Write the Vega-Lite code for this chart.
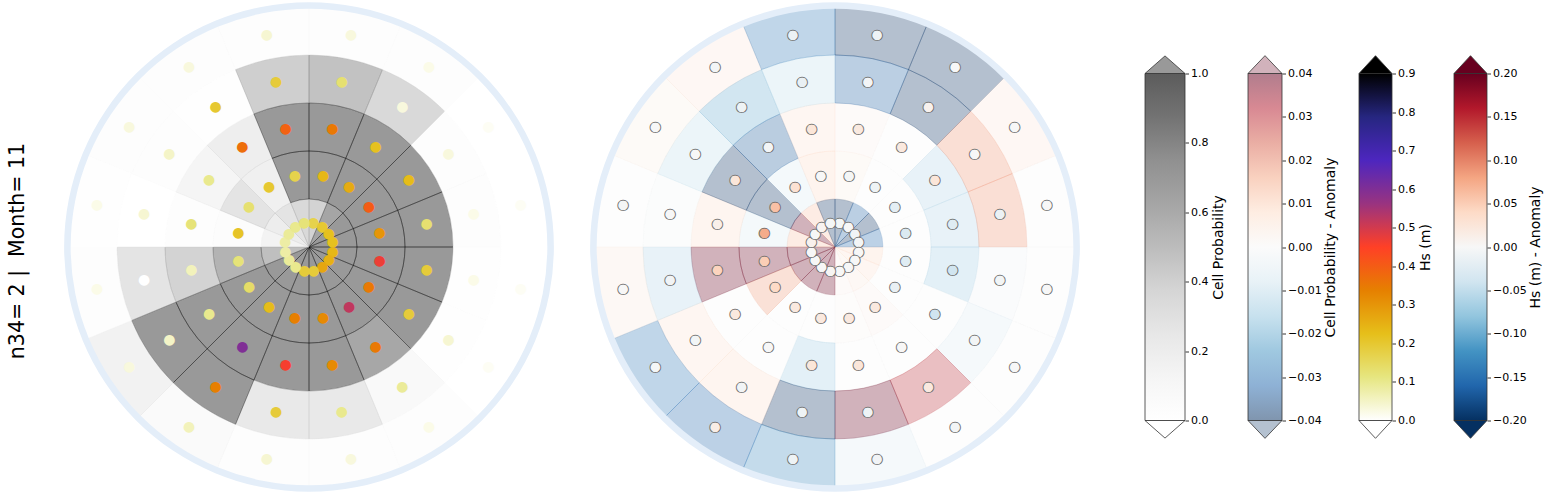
{
  "$schema": "https://vega.github.io/schema/vega-lite/v6.json",
  "background": "white",
  "padding": {"left": 7, "top": 2, "right": 5, "bottom": 2},
  "bounds": "flush",
  "center": true,
  "spacing": 46,
  "title": {"text": "n34= 2 | \u00a0Month= 11", "orient": "left", "anchor": "middle", "fontSize": 20.5, "font": "DejaVu Sans", "fontWeight": "normal", "color": "#000000", "offset": 36, "dx": -4},
  "config": {
    "view": {"stroke": null},
    "axis": {"domain": false, "grid": false, "tickSize": 3.5, "tickColor": "#000000", "tickWidth": 0.8, "labelFontSize": 11, "labelFont": "DejaVu Sans", "labelColor": "#000000", "labelPadding": 2, "labelOverlap": false, "titleFont": "DejaVu Sans", "titleFontSize": 14, "titleFontWeight": "normal", "titleColor": "#000000"}
  },
  "datasets": {
    "cells": [
      {"p":"L","a":0,"b":22.5,"c":11.25,"r0":0,"r1":1,"m":0.5,"v":0.52,"h":0.17},
      {"p":"L","a":0,"b":22.5,"c":11.25,"r0":1,"r1":2,"m":1.5,"v":1,"h":0.24},
      {"p":"L","a":0,"b":22.5,"c":11.25,"r0":2,"r1":3,"m":2.5,"v":1,"h":0.35},
      {"p":"L","a":0,"b":22.5,"c":11.25,"r0":3,"r1":4,"m":3.5,"v":0.67,"h":0.13},
      {"p":"L","a":0,"b":22.5,"c":11.25,"r0":4,"r1":5,"m":4.5,"v":0.05,"h":0.03},
      {"p":"L","a":22.5,"b":45,"c":33.75,"r0":0,"r1":1,"m":0.5,"v":0.9,"h":0.2},
      {"p":"L","a":22.5,"b":45,"c":33.75,"r0":1,"r1":2,"m":1.5,"v":1,"h":0.26},
      {"p":"L","a":22.5,"b":45,"c":33.75,"r0":2,"r1":3,"m":2.5,"v":1,"h":0.22},
      {"p":"L","a":22.5,"b":45,"c":33.75,"r0":3,"r1":4,"m":3.5,"v":0.47,"h":0.03},
      {"p":"L","a":22.5,"b":45,"c":33.75,"r0":4,"r1":5,"m":4.5,"v":0.03,"h":0.02},
      {"p":"L","a":45,"b":67.5,"c":56.25,"r0":0,"r1":1,"m":0.5,"v":1,"h":0.22},
      {"p":"L","a":45,"b":67.5,"c":56.25,"r0":1,"r1":2,"m":1.5,"v":1,"h":0.4},
      {"p":"L","a":45,"b":67.5,"c":56.25,"r0":2,"r1":3,"m":2.5,"v":1,"h":0.23},
      {"p":"L","a":45,"b":67.5,"c":56.25,"r0":3,"r1":4,"m":3.5,"v":0.04,"h":0.03},
      {"p":"L","a":45,"b":67.5,"c":56.25,"r0":4,"r1":5,"m":4.5,"v":0.01,"h":0.01},
      {"p":"L","a":67.5,"b":90,"c":78.75,"r0":0,"r1":1,"m":0.5,"v":1,"h":0.22},
      {"p":"L","a":67.5,"b":90,"c":78.75,"r0":1,"r1":2,"m":1.5,"v":1,"h":0.3},
      {"p":"L","a":67.5,"b":90,"c":78.75,"r0":2,"r1":3,"m":2.5,"v":1,"h":0.13},
      {"p":"L","a":67.5,"b":90,"c":78.75,"r0":3,"r1":4,"m":3.5,"v":0.04,"h":0.02},
      {"p":"L","a":67.5,"b":90,"c":78.75,"r0":4,"r1":5,"m":4.5,"v":0,"h":0.01},
      {"p":"L","a":90,"b":112.5,"c":101.25,"r0":0,"r1":1,"m":0.5,"v":1,"h":0.24},
      {"p":"L","a":90,"b":112.5,"c":101.25,"r0":1,"r1":2,"m":1.5,"v":1,"h":0.47},
      {"p":"L","a":90,"b":112.5,"c":101.25,"r0":2,"r1":3,"m":2.5,"v":1,"h":0.19},
      {"p":"L","a":90,"b":112.5,"c":101.25,"r0":3,"r1":4,"m":3.5,"v":0.02,"h":0.02},
      {"p":"L","a":90,"b":112.5,"c":101.25,"r0":4,"r1":5,"m":4.5,"v":0,"h":0.01},
      {"p":"L","a":112.5,"b":135,"c":123.75,"r0":0,"r1":1,"m":0.5,"v":1,"h":0.25},
      {"p":"L","a":112.5,"b":135,"c":123.75,"r0":1,"r1":2,"m":1.5,"v":1,"h":0.35},
      {"p":"L","a":112.5,"b":135,"c":123.75,"r0":2,"r1":3,"m":2.5,"v":1,"h":0.19},
      {"p":"L","a":112.5,"b":135,"c":123.75,"r0":3,"r1":4,"m":3.5,"v":0.02,"h":0.04},
      {"p":"L","a":112.5,"b":135,"c":123.75,"r0":4,"r1":5,"m":4.5,"v":0,"h":0.01},
      {"p":"L","a":135,"b":157.5,"c":146.25,"r0":0,"r1":1,"m":0.5,"v":1,"h":0.27},
      {"p":"L","a":135,"b":157.5,"c":146.25,"r0":1,"r1":2,"m":1.5,"v":1,"h":0.52},
      {"p":"L","a":135,"b":157.5,"c":146.25,"r0":2,"r1":3,"m":2.5,"v":0.88,"h":0.35},
      {"p":"L","a":135,"b":157.5,"c":146.25,"r0":3,"r1":4,"m":3.5,"v":0.12,"h":0.09},
      {"p":"L","a":135,"b":157.5,"c":146.25,"r0":4,"r1":5,"m":4.5,"v":0.03,"h":0.02},
      {"p":"L","a":157.5,"b":180,"c":168.75,"r0":0,"r1":1,"m":0.5,"v":1,"h":0.19},
      {"p":"L","a":157.5,"b":180,"c":168.75,"r0":1,"r1":2,"m":1.5,"v":1,"h":0.32},
      {"p":"L","a":157.5,"b":180,"c":168.75,"r0":2,"r1":3,"m":2.5,"v":1,"h":0.32},
      {"p":"L","a":157.5,"b":180,"c":168.75,"r0":3,"r1":4,"m":3.5,"v":0.33,"h":0.1},
      {"p":"L","a":157.5,"b":180,"c":168.75,"r0":4,"r1":5,"m":4.5,"v":0.04,"h":0.03},
      {"p":"L","a":180,"b":202.5,"c":191.25,"r0":0,"r1":1,"m":0.5,"v":1,"h":0.19},
      {"p":"L","a":180,"b":202.5,"c":191.25,"r0":1,"r1":2,"m":1.5,"v":1,"h":0.34},
      {"p":"L","a":180,"b":202.5,"c":191.25,"r0":2,"r1":3,"m":2.5,"v":1,"h":0.46},
      {"p":"L","a":180,"b":202.5,"c":191.25,"r0":3,"r1":4,"m":3.5,"v":0.33,"h":0.19},
      {"p":"L","a":180,"b":202.5,"c":191.25,"r0":4,"r1":5,"m":4.5,"v":0.05,"h":0.04},
      {"p":"L","a":202.5,"b":225,"c":213.75,"r0":0,"r1":1,"m":0.5,"v":1,"h":0.1},
      {"p":"L","a":202.5,"b":225,"c":213.75,"r0":1,"r1":2,"m":1.5,"v":1,"h":0.23},
      {"p":"L","a":202.5,"b":225,"c":213.75,"r0":2,"r1":3,"m":2.5,"v":1,"h":0.6},
      {"p":"L","a":202.5,"b":225,"c":213.75,"r0":3,"r1":4,"m":3.5,"v":1,"h":0.34},
      {"p":"L","a":202.5,"b":225,"c":213.75,"r0":4,"r1":5,"m":4.5,"v":0.1,"h":0.06},
      {"p":"L","a":225,"b":247.5,"c":236.25,"r0":0,"r1":1,"m":0.5,"v":1,"h":0.09},
      {"p":"L","a":225,"b":247.5,"c":236.25,"r0":1,"r1":2,"m":1.5,"v":1,"h":0.14},
      {"p":"L","a":225,"b":247.5,"c":236.25,"r0":2,"r1":3,"m":2.5,"v":1,"h":0.1},
      {"p":"L","a":225,"b":247.5,"c":236.25,"r0":3,"r1":4,"m":3.5,"v":1,"h":0.05},
      {"p":"L","a":225,"b":247.5,"c":236.25,"r0":4,"r1":5,"m":4.5,"v":0.22,"h":0.03},
      {"p":"L","a":247.5,"b":270,"c":258.75,"r0":0,"r1":1,"m":0.5,"v":0.7,"h":0.08},
      {"p":"L","a":247.5,"b":270,"c":258.75,"r0":1,"r1":2,"m":1.5,"v":0.8,"h":0.12},
      {"p":"L","a":247.5,"b":270,"c":258.75,"r0":2,"r1":3,"m":2.5,"v":0.52,"h":0.06},
      {"p":"L","a":247.5,"b":270,"c":258.75,"r0":3,"r1":4,"m":3.5,"v":0.38,"h":0},
      {"p":"L","a":247.5,"b":270,"c":258.75,"r0":4,"r1":5,"m":4.5,"v":0.03,"h":0.02},
      {"p":"L","a":270,"b":292.5,"c":281.25,"r0":0,"r1":1,"m":0.5,"v":0.2,"h":0.08},
      {"p":"L","a":270,"b":292.5,"c":281.25,"r0":1,"r1":2,"m":1.5,"v":0.06,"h":0.21},
      {"p":"L","a":270,"b":292.5,"c":281.25,"r0":2,"r1":3,"m":2.5,"v":0.05,"h":0.12},
      {"p":"L","a":270,"b":292.5,"c":281.25,"r0":3,"r1":4,"m":3.5,"v":0.01,"h":0.04},
      {"p":"L","a":270,"b":292.5,"c":281.25,"r0":4,"r1":5,"m":4.5,"v":0.02,"h":0.02},
      {"p":"L","a":292.5,"b":315,"c":303.75,"r0":0,"r1":1,"m":0.5,"v":0.28,"h":0.09},
      {"p":"L","a":292.5,"b":315,"c":303.75,"r0":1,"r1":2,"m":1.5,"v":0.38,"h":0.13},
      {"p":"L","a":292.5,"b":315,"c":303.75,"r0":2,"r1":3,"m":2.5,"v":0.18,"h":0.1},
      {"p":"L","a":292.5,"b":315,"c":303.75,"r0":3,"r1":4,"m":3.5,"v":0.05,"h":0.05},
      {"p":"L","a":292.5,"b":315,"c":303.75,"r0":4,"r1":5,"m":4.5,"v":0.03,"h":0.03},
      {"p":"L","a":315,"b":337.5,"c":326.25,"r0":0,"r1":1,"m":0.5,"v":0.38,"h":0.1},
      {"p":"L","a":315,"b":337.5,"c":326.25,"r0":1,"r1":2,"m":1.5,"v":0.25,"h":0.2},
      {"p":"L","a":315,"b":337.5,"c":326.25,"r0":2,"r1":3,"m":2.5,"v":0.27,"h":0.37},
      {"p":"L","a":315,"b":337.5,"c":326.25,"r0":3,"r1":4,"m":3.5,"v":0.02,"h":0.2},
      {"p":"L","a":315,"b":337.5,"c":326.25,"r0":4,"r1":5,"m":4.5,"v":0.03,"h":0.03},
      {"p":"L","a":337.5,"b":360,"c":348.75,"r0":0,"r1":1,"m":0.5,"v":0.47,"h":0.12},
      {"p":"L","a":337.5,"b":360,"c":348.75,"r0":1,"r1":2,"m":1.5,"v":1,"h":0.17},
      {"p":"L","a":337.5,"b":360,"c":348.75,"r0":2,"r1":3,"m":2.5,"v":1,"h":0.39},
      {"p":"L","a":337.5,"b":360,"c":348.75,"r0":3,"r1":4,"m":3.5,"v":0.55,"h":0.19},
      {"p":"L","a":337.5,"b":360,"c":348.75,"r0":4,"r1":5,"m":4.5,"v":0.05,"h":0.04},
      {"p":"R","a":0,"b":22.5,"c":11.25,"r0":0,"r1":1,"m":0.5,"v":-0.04,"h":-0.005},
      {"p":"R","a":0,"b":22.5,"c":11.25,"r0":1,"r1":2,"m":1.5,"v":0.003,"h":-0.003},
      {"p":"R","a":0,"b":22.5,"c":11.25,"r0":2,"r1":3,"m":2.5,"v":0.002,"h":0.02},
      {"p":"R","a":0,"b":22.5,"c":11.25,"r0":3,"r1":4,"m":3.5,"v":-0.033,"h":-0.004},
      {"p":"R","a":0,"b":22.5,"c":11.25,"r0":4,"r1":5,"m":4.5,"v":-0.04,"h":-0.01},
      {"p":"R","a":22.5,"b":45,"c":33.75,"r0":0,"r1":1,"m":0.5,"v":-0.033,"h":0},
      {"p":"R","a":22.5,"b":45,"c":33.75,"r0":1,"r1":2,"m":1.5,"v":0,"h":-0.01},
      {"p":"R","a":22.5,"b":45,"c":33.75,"r0":2,"r1":3,"m":2.5,"v":0,"h":0.02},
      {"p":"R","a":22.5,"b":45,"c":33.75,"r0":3,"r1":4,"m":3.5,"v":-0.04,"h":0.008},
      {"p":"R","a":22.5,"b":45,"c":33.75,"r0":4,"r1":5,"m":4.5,"v":-0.04,"h":0},
      {"p":"R","a":45,"b":67.5,"c":56.25,"r0":0,"r1":1,"m":0.5,"v":-0.04,"h":-0.005},
      {"p":"R","a":45,"b":67.5,"c":56.25,"r0":1,"r1":2,"m":1.5,"v":0,"h":-0.02},
      {"p":"R","a":45,"b":67.5,"c":56.25,"r0":2,"r1":3,"m":2.5,"v":-0.012,"h":0.025},
      {"p":"R","a":45,"b":67.5,"c":56.25,"r0":3,"r1":4,"m":3.5,"v":0.018,"h":0},
      {"p":"R","a":45,"b":67.5,"c":56.25,"r0":4,"r1":5,"m":4.5,"v":0.005,"h":0},
      {"p":"R","a":67.5,"b":90,"c":78.75,"r0":0,"r1":1,"m":0.5,"v":-0.032,"h":-0.004},
      {"p":"R","a":67.5,"b":90,"c":78.75,"r0":1,"r1":2,"m":1.5,"v":0,"h":-0.03},
      {"p":"R","a":67.5,"b":90,"c":78.75,"r0":2,"r1":3,"m":2.5,"v":-0.012,"h":-0.025},
      {"p":"R","a":67.5,"b":90,"c":78.75,"r0":3,"r1":4,"m":3.5,"v":0.018,"h":-0.012},
      {"p":"R","a":67.5,"b":90,"c":78.75,"r0":4,"r1":5,"m":4.5,"v":0,"h":0},
      {"p":"R","a":90,"b":112.5,"c":101.25,"r0":0,"r1":1,"m":0.5,"v":0.008,"h":0},
      {"p":"R","a":90,"b":112.5,"c":101.25,"r0":1,"r1":2,"m":1.5,"v":0,"h":-0.025},
      {"p":"R","a":90,"b":112.5,"c":101.25,"r0":2,"r1":3,"m":2.5,"v":-0.014,"h":-0.04},
      {"p":"R","a":90,"b":112.5,"c":101.25,"r0":3,"r1":4,"m":3.5,"v":-0.002,"h":-0.005},
      {"p":"R","a":90,"b":112.5,"c":101.25,"r0":4,"r1":5,"m":4.5,"v":0,"h":0},
      {"p":"R","a":112.5,"b":135,"c":123.75,"r0":0,"r1":1,"m":0.5,"v":0.006,"h":0},
      {"p":"R","a":112.5,"b":135,"c":123.75,"r0":1,"r1":2,"m":1.5,"v":0,"h":-0.015},
      {"p":"R","a":112.5,"b":135,"c":123.75,"r0":2,"r1":3,"m":2.5,"v":0,"h":-0.04},
      {"p":"R","a":112.5,"b":135,"c":123.75,"r0":3,"r1":4,"m":3.5,"v":-0.005,"h":-0.005},
      {"p":"R","a":112.5,"b":135,"c":123.75,"r0":4,"r1":5,"m":4.5,"v":0,"h":0},
      {"p":"R","a":135,"b":157.5,"c":146.25,"r0":0,"r1":1,"m":0.5,"v":0.004,"h":0},
      {"p":"R","a":135,"b":157.5,"c":146.25,"r0":1,"r1":2,"m":1.5,"v":0.002,"h":0.02},
      {"p":"R","a":135,"b":157.5,"c":146.25,"r0":2,"r1":3,"m":2.5,"v":0,"h":0},
      {"p":"R","a":135,"b":157.5,"c":146.25,"r0":3,"r1":4,"m":3.5,"v":0.03,"h":0.02},
      {"p":"R","a":135,"b":157.5,"c":146.25,"r0":4,"r1":5,"m":4.5,"v":0,"h":-0.004},
      {"p":"R","a":157.5,"b":180,"c":168.75,"r0":0,"r1":1,"m":0.5,"v":0.002,"h":0},
      {"p":"R","a":157.5,"b":180,"c":168.75,"r0":1,"r1":2,"m":1.5,"v":0.001,"h":0.02},
      {"p":"R","a":157.5,"b":180,"c":168.75,"r0":2,"r1":3,"m":2.5,"v":0,"h":0.025},
      {"p":"R","a":157.5,"b":180,"c":168.75,"r0":3,"r1":4,"m":3.5,"v":0.04,"h":-0.01},
      {"p":"R","a":157.5,"b":180,"c":168.75,"r0":4,"r1":5,"m":4.5,"v":-0.005,"h":-0.006},
      {"p":"R","a":180,"b":202.5,"c":191.25,"r0":0,"r1":1,"m":0.5,"v":0.04,"h":0.003},
      {"p":"R","a":180,"b":202.5,"c":191.25,"r0":1,"r1":2,"m":1.5,"v":0,"h":0.02},
      {"p":"R","a":180,"b":202.5,"c":191.25,"r0":2,"r1":3,"m":2.5,"v":-0.014,"h":0.025},
      {"p":"R","a":180,"b":202.5,"c":191.25,"r0":3,"r1":4,"m":3.5,"v":-0.04,"h":-0.01},
      {"p":"R","a":180,"b":202.5,"c":191.25,"r0":4,"r1":5,"m":4.5,"v":-0.026,"h":-0.01},
      {"p":"R","a":202.5,"b":225,"c":213.75,"r0":0,"r1":1,"m":0.5,"v":0.04,"h":0},
      {"p":"R","a":202.5,"b":225,"c":213.75,"r0":1,"r1":2,"m":1.5,"v":0,"h":0.02},
      {"p":"R","a":202.5,"b":225,"c":213.75,"r0":2,"r1":3,"m":2.5,"v":0,"h":0},
      {"p":"R","a":202.5,"b":225,"c":213.75,"r0":3,"r1":4,"m":3.5,"v":0.007,"h":-0.006},
      {"p":"R","a":202.5,"b":225,"c":213.75,"r0":4,"r1":5,"m":4.5,"v":-0.032,"h":0.015},
      {"p":"R","a":225,"b":247.5,"c":236.25,"r0":0,"r1":1,"m":0.5,"v":0.04,"h":0},
      {"p":"R","a":225,"b":247.5,"c":236.25,"r0":1,"r1":2,"m":1.5,"v":0.017,"h":0.04},
      {"p":"R","a":225,"b":247.5,"c":236.25,"r0":2,"r1":3,"m":2.5,"v":0,"h":0.02},
      {"p":"R","a":225,"b":247.5,"c":236.25,"r0":3,"r1":4,"m":3.5,"v":0.006,"h":-0.005},
      {"p":"R","a":225,"b":247.5,"c":236.25,"r0":4,"r1":5,"m":4.5,"v":-0.029,"h":-0.003},
      {"p":"R","a":247.5,"b":270,"c":258.75,"r0":0,"r1":1,"m":0.5,"v":0.04,"h":0},
      {"p":"R","a":247.5,"b":270,"c":258.75,"r0":1,"r1":2,"m":1.5,"v":0.04,"h":0.05},
      {"p":"R","a":247.5,"b":270,"c":258.75,"r0":2,"r1":3,"m":2.5,"v":0.04,"h":0.045},
      {"p":"R","a":247.5,"b":270,"c":258.75,"r0":3,"r1":4,"m":3.5,"v":-0.012,"h":-0.006},
      {"p":"R","a":247.5,"b":270,"c":258.75,"r0":4,"r1":5,"m":4.5,"v":0.004,"h":0},
      {"p":"R","a":270,"b":292.5,"c":281.25,"r0":0,"r1":1,"m":0.5,"v":0.012,"h":0.008},
      {"p":"R","a":270,"b":292.5,"c":281.25,"r0":1,"r1":2,"m":1.5,"v":-0.006,"h":0.075},
      {"p":"R","a":270,"b":292.5,"c":281.25,"r0":2,"r1":3,"m":2.5,"v":0.007,"h":0.012},
      {"p":"R","a":270,"b":292.5,"c":281.25,"r0":3,"r1":4,"m":3.5,"v":-0.001,"h":0},
      {"p":"R","a":270,"b":292.5,"c":281.25,"r0":4,"r1":5,"m":4.5,"v":0,"h":-0.003},
      {"p":"R","a":292.5,"b":315,"c":303.75,"r0":0,"r1":1,"m":0.5,"v":0.04,"h":0},
      {"p":"R","a":292.5,"b":315,"c":303.75,"r0":1,"r1":2,"m":1.5,"v":-0.04,"h":0.06},
      {"p":"R","a":292.5,"b":315,"c":303.75,"r0":2,"r1":3,"m":2.5,"v":-0.04,"h":0.025},
      {"p":"R","a":292.5,"b":315,"c":303.75,"r0":3,"r1":4,"m":3.5,"v":-0.01,"h":0},
      {"p":"R","a":292.5,"b":315,"c":303.75,"r0":4,"r1":5,"m":4.5,"v":0.003,"h":0},
      {"p":"R","a":315,"b":337.5,"c":326.25,"r0":0,"r1":1,"m":0.5,"v":0.012,"h":0.006},
      {"p":"R","a":315,"b":337.5,"c":326.25,"r0":1,"r1":2,"m":1.5,"v":-0.006,"h":0.03},
      {"p":"R","a":315,"b":337.5,"c":326.25,"r0":2,"r1":3,"m":2.5,"v":-0.034,"h":-0.004},
      {"p":"R","a":315,"b":337.5,"c":326.25,"r0":3,"r1":4,"m":3.5,"v":-0.02,"h":-0.01},
      {"p":"R","a":315,"b":337.5,"c":326.25,"r0":4,"r1":5,"m":4.5,"v":0.005,"h":-0.004},
      {"p":"R","a":337.5,"b":360,"c":348.75,"r0":0,"r1":1,"m":0.5,"v":-0.04,"h":-0.003},
      {"p":"R","a":337.5,"b":360,"c":348.75,"r0":1,"r1":2,"m":1.5,"v":0.008,"h":0},
      {"p":"R","a":337.5,"b":360,"c":348.75,"r0":2,"r1":3,"m":2.5,"v":0.006,"h":0.025},
      {"p":"R","a":337.5,"b":360,"c":348.75,"r0":3,"r1":4,"m":3.5,"v":-0.01,"h":-0.015},
      {"p":"R","a":337.5,"b":360,"c":348.75,"r0":4,"r1":5,"m":4.5,"v":-0.029,"h":-0.012}
    ]
  },
  "hconcat": [
    {
      "width": 480, "height": 480,
      "data": {"name": "cells"},
      "transform": [{"filter": "datum.p === 'L'"}],
      "resolve": {"scale": {"fill": "independent", "stroke": "independent"}},
      "layer": [
        {
          "mark": {"type": "arc", "fillOpacity": 0.4, "strokeOpacity": 0.4, "strokeWidth": 0.8},
          "encoding": {
            "theta": {"field": "a", "type": "quantitative", "stack": null, "scale": {"domain": [0, 360], "range": [0, 6.283185307179586]}},
            "theta2": {"field": "b"},
            "radius": {"field": "r0", "type": "quantitative", "scale": {"type": "linear", "domain": [0, 5], "range": [0, 240], "zero": true}},
            "radius2": {"field": "r1"},
            "fill": {"field": "v", "type": "quantitative", "scale": {"domain": [0, 0.125, 0.25, 0.375, 0.5, 0.625, 0.75, 0.875, 1], "range": ["#ffffff", "#f0f0f0", "#d9d9d9", "#bdbdbd", "#969696", "#737373", "#525252", "#252525", "#000000"], "interpolate": "rgb", "clamp": true}, "legend": null},
            "stroke": {"field": "v", "type": "quantitative", "scale": {"domain": [0, 0.125, 0.25, 0.375, 0.5, 0.625, 0.75, 0.875, 1], "range": ["#ffffff", "#f0f0f0", "#d9d9d9", "#bdbdbd", "#969696", "#737373", "#525252", "#252525", "#000000"], "interpolate": "rgb", "clamp": true}, "legend": null}
          }
        },
        {
          "mark": {"type": "text", "text": "●", "font": "DejaVu Sans", "fontSize": 14, "baseline": "middle", "align": "center"},
          "encoding": {
            "theta": {"field": "c", "type": "quantitative", "stack": null, "scale": {"domain": [0, 360], "range": [0, 6.283185307179586]}},
            "radius": {"field": "m", "type": "quantitative", "scale": {"type": "linear", "domain": [0, 5], "range": [0, 240], "zero": true}},
            "fill": {"field": "h", "type": "quantitative", "scale": {"domain": [0, 0.1125, 0.225, 0.3375, 0.45, 0.5625, 0.675, 0.7875, 0.9], "range": ["#ffffff", "#e6e680", "#e6bf1a", "#e68000", "#ff4026", "#993380", "#4d26bf", "#262680", "#000000"], "interpolate": "rgb", "clamp": true}, "legend": null}
          }
        },
        {
          "data": {"values": [{"ring": "frame"}]},
          "mark": {"type": "arc", "fill": "#e4eef9"},
          "encoding": {
            "theta": {"datum": 0, "type": "quantitative"},
            "theta2": {"datum": 360},
            "radius": {"datum": 4.965, "type": "quantitative"},
            "radius2": {"datum": 5.1}
          }
        }
      ]
    },
    {
      "width": 480, "height": 480,
      "data": {"name": "cells"},
      "transform": [{"filter": "datum.p === 'R'"}],
      "resolve": {"scale": {"fill": "independent", "stroke": "independent"}},
      "layer": [
        {
          "mark": {"type": "arc", "fillOpacity": 0.3, "strokeOpacity": 0.3, "strokeWidth": 0.8},
          "encoding": {
            "theta": {"field": "a", "type": "quantitative", "stack": null, "scale": {"domain": [0, 360], "range": [0, 6.283185307179586]}},
            "theta2": {"field": "b"},
            "radius": {"field": "r0", "type": "quantitative", "scale": {"type": "linear", "domain": [0, 5], "range": [0, 240], "zero": true}},
            "radius2": {"field": "r1"},
            "fill": {"field": "v", "type": "quantitative", "scale": {"domain": [-0.04, -0.032, -0.024, -0.016, -0.008, 0, 0.008, 0.016, 0.024, 0.032, 0.04], "range": ["#053061", "#2166ac", "#4393c3", "#92c5de", "#d1e5f0", "#f7f7f7", "#fddbc7", "#f4a582", "#d6604d", "#b2182b", "#67001f"], "interpolate": "rgb", "clamp": true}, "legend": null},
            "stroke": {"field": "v", "type": "quantitative", "scale": {"domain": [-0.04, -0.032, -0.024, -0.016, -0.008, 0, 0.008, 0.016, 0.024, 0.032, 0.04], "range": ["#053061", "#2166ac", "#4393c3", "#92c5de", "#d1e5f0", "#f7f7f7", "#fddbc7", "#f4a582", "#d6604d", "#b2182b", "#67001f"], "interpolate": "rgb", "clamp": true}, "legend": null}
          }
        },
        {
          "mark": {"type": "text", "text": "●", "font": "DejaVu Sans", "fontSize": 14, "baseline": "middle", "align": "center", "stroke": "#666666", "strokeWidth": 0.8},
          "encoding": {
            "theta": {"field": "c", "type": "quantitative", "stack": null, "scale": {"domain": [0, 360], "range": [0, 6.283185307179586]}},
            "radius": {"field": "m", "type": "quantitative", "scale": {"type": "linear", "domain": [0, 5], "range": [0, 240], "zero": true}},
            "fill": {"field": "h", "type": "quantitative", "scale": {"domain": [-0.2, -0.16, -0.12, -0.08, -0.04, 0, 0.04, 0.08, 0.12, 0.16, 0.2], "range": ["#053061", "#2166ac", "#4393c3", "#92c5de", "#d1e5f0", "#f7f7f7", "#fddbc7", "#f4a582", "#d6604d", "#b2182b", "#67001f"], "interpolate": "rgb", "clamp": true}, "legend": null}
          }
        },
        {
          "data": {"values": [{"ring": "frame"}]},
          "mark": {"type": "arc", "fill": "#e4eef9"},
          "encoding": {
            "theta": {"datum": 0, "type": "quantitative"},
            "theta2": {"datum": 360},
            "radius": {"datum": 4.965, "type": "quantitative"},
            "radius2": {"datum": 5.1}
          }
        }
      ]
    },
    {
      "width": 64, "height": 347,
      "data": {"values": [{"lo": 0, "hi": 1}]},
      "layer": [
        {"mark": {"type": "rect", "color": {"gradient": "linear", "x1": 0, "y1": 1, "x2": 0, "y2": 0, "stops": [{"offset": 0, "color": "#ffffff"}, {"offset": 0.125, "color": "#f5f5f5"}, {"offset": 0.25, "color": "#e7e7e7"}, {"offset": 0.375, "color": "#d5d5d5"}, {"offset": 0.5, "color": "#bcbcbc"}, {"offset": 0.625, "color": "#a5a5a5"}, {"offset": 0.75, "color": "#909090"}, {"offset": 0.875, "color": "#737373"}, {"offset": 1, "color": "#5c5c5c"}]}, "stroke": "#333333", "strokeWidth": 0.8},
         "encoding": {
           "x": {"datum": 0, "type": "quantitative", "scale": {"domain": [-0.6, 1], "nice": false, "zero": false}, "axis": null},
           "x2": {"datum": 1},
           "y": {"field": "lo", "type": "quantitative", "scale": {"domain": [0, 1], "nice": false, "zero": false}, "axis": {"orient": "right", "values": [0, 0.2, 0.4, 0.6, 0.8, 1], "format": ".1f", "title": "Cell Probability", "titleAngle": 270, "titleBaseline": "top", "titlePadding": 4}},
           "y2": {"field": "hi"}
         }},
        {"mark": {"type": "point", "shape": "M-1,0L0,-0.88L1,0Z", "size": 1600, "filled": true, "fill": "#999999", "stroke": "#333333", "strokeWidth": 0.8, "opacity": 1},
         "encoding": {
           "x": {"datum": 0.5, "type": "quantitative"},
           "y": {"field": "hi", "type": "quantitative", "axis": {"orient": "right", "values": [0, 0.2, 0.4, 0.6, 0.8, 1], "format": ".1f", "title": "Cell Probability", "titleAngle": 270, "titleBaseline": "top", "titlePadding": 4}}
         }},
        {"mark": {"type": "point", "shape": "M-1,0L0,0.88L1,0Z", "size": 1600, "filled": true, "fill": "#ffffff", "stroke": "#333333", "strokeWidth": 0.8, "opacity": 1},
         "encoding": {
           "x": {"datum": 0.5, "type": "quantitative"},
           "y": {"field": "lo", "type": "quantitative", "axis": {"orient": "right", "values": [0, 0.2, 0.4, 0.6, 0.8, 1], "format": ".1f", "title": "Cell Probability", "titleAngle": 270, "titleBaseline": "top", "titlePadding": 4}}
         }}
      ]
    },
    {
      "width": 51, "height": 347,
      "data": {"values": [{"lo": -0.04, "hi": 0.04}]},
      "layer": [
        {"mark": {"type": "rect", "color": {"gradient": "linear", "x1": 0, "y1": 1, "x2": 0, "y2": 0, "stops": [{"offset": 0, "color": "#8095ae"}, {"offset": 0.1, "color": "#8eb1d5"}, {"offset": 0.2, "color": "#9fc8e0"}, {"offset": 0.3, "color": "#c7e1ee"}, {"offset": 0.4, "color": "#e8f2f7"}, {"offset": 0.5, "color": "#fbfbfb"}, {"offset": 0.6, "color": "#feede2"}, {"offset": 0.7, "color": "#f9d1bf"}, {"offset": 0.8, "color": "#eaaea4"}, {"offset": 0.9, "color": "#d88993"}, {"offset": 1, "color": "#b17d8d"}]}, "stroke": "#333333", "strokeWidth": 0.8},
         "encoding": {
           "x": {"datum": 0, "type": "quantitative", "scale": {"domain": [-0.5, 1], "nice": false, "zero": false}, "axis": null},
           "x2": {"datum": 1},
           "y": {"field": "lo", "type": "quantitative", "scale": {"domain": [-0.04, 0.04], "nice": false, "zero": false}, "axis": {"orient": "right", "values": [-0.04, -0.03, -0.02, -0.01, 0, 0.01, 0.02, 0.03, 0.04], "format": ".2f", "title": "Cell Probability - Anomaly", "titleAngle": 270, "titleBaseline": "top", "titlePadding": 2}},
           "y2": {"field": "hi"}
         }},
        {"mark": {"type": "point", "shape": "M-1,0L0,-1.05L1,0Z", "size": 1156, "filled": true, "fill": "#d1b2bb", "stroke": "#333333", "strokeWidth": 0.8, "opacity": 1},
         "encoding": {
           "x": {"datum": 0.5, "type": "quantitative"},
           "y": {"field": "hi", "type": "quantitative", "axis": {"orient": "right", "values": [-0.04, -0.03, -0.02, -0.01, 0, 0.01, 0.02, 0.03, 0.04], "format": ".2f", "title": "Cell Probability - Anomaly", "titleAngle": 270, "titleBaseline": "top", "titlePadding": 2}}
         }},
        {"mark": {"type": "point", "shape": "M-1,0L0,1.05L1,0Z", "size": 1156, "filled": true, "fill": "#b4c1d0", "stroke": "#333333", "strokeWidth": 0.8, "opacity": 1},
         "encoding": {
           "x": {"datum": 0.5, "type": "quantitative"},
           "y": {"field": "lo", "type": "quantitative", "axis": {"orient": "right", "values": [-0.04, -0.03, -0.02, -0.01, 0, 0.01, 0.02, 0.03, 0.04], "format": ".2f", "title": "Cell Probability - Anomaly", "titleAngle": 270, "titleBaseline": "top", "titlePadding": 2}}
         }}
      ]
    },
    {
      "width": 64, "height": 347,
      "data": {"values": [{"lo": 0, "hi": 0.9}]},
      "layer": [
        {"mark": {"type": "rect", "color": {"gradient": "linear", "x1": 0, "y1": 1, "x2": 0, "y2": 0, "stops": [{"offset": 0, "color": "#ffffff"}, {"offset": 0.125, "color": "#e6e680"}, {"offset": 0.25, "color": "#e6bf1a"}, {"offset": 0.375, "color": "#e68000"}, {"offset": 0.5, "color": "#ff4026"}, {"offset": 0.625, "color": "#993380"}, {"offset": 0.75, "color": "#4d26bf"}, {"offset": 0.875, "color": "#262680"}, {"offset": 1, "color": "#000000"}]}, "stroke": "#333333", "strokeWidth": 0.8},
         "encoding": {
           "x": {"datum": 0, "type": "quantitative", "scale": {"domain": [-0.93939, 1], "nice": false, "zero": false}, "axis": null},
           "x2": {"datum": 1},
           "y": {"field": "lo", "type": "quantitative", "scale": {"domain": [0, 0.9], "nice": false, "zero": false}, "axis": {"orient": "right", "values": [0, 0.1, 0.2, 0.3, 0.4, 0.5, 0.6, 0.7, 0.8, 0.9], "tickCount": 10, "format": ".1f", "title": "Hs (m)", "titleAngle": 270, "titleBaseline": "top", "titlePadding": 4}},
           "y2": {"field": "hi"}
         }},
        {"mark": {"type": "point", "shape": "M-1,0L0,-1.08L1,0Z", "size": 1089, "filled": true, "fill": "#000000", "stroke": "#333333", "strokeWidth": 0.8, "opacity": 1},
         "encoding": {
           "x": {"datum": 0.5, "type": "quantitative"},
           "y": {"field": "hi", "type": "quantitative", "axis": {"orient": "right", "values": [0, 0.1, 0.2, 0.3, 0.4, 0.5, 0.6, 0.7, 0.8, 0.9], "tickCount": 10, "format": ".1f", "title": "Hs (m)", "titleAngle": 270, "titleBaseline": "top", "titlePadding": 4}}
         }},
        {"mark": {"type": "point", "shape": "M-1,0L0,1.08L1,0Z", "size": 1089, "filled": true, "fill": "#ffffff", "stroke": "#333333", "strokeWidth": 0.8, "opacity": 1},
         "encoding": {
           "x": {"datum": 0.5, "type": "quantitative"},
           "y": {"field": "lo", "type": "quantitative", "axis": {"orient": "right", "values": [0, 0.1, 0.2, 0.3, 0.4, 0.5, 0.6, 0.7, 0.8, 0.9], "tickCount": 10, "format": ".1f", "title": "Hs (m)", "titleAngle": 270, "titleBaseline": "top", "titlePadding": 4}}
         }}
      ]
    },
    {
      "width": 49, "height": 347,
      "data": {"values": [{"lo": -0.2, "hi": 0.2}]},
      "layer": [
        {"mark": {"type": "rect", "color": {"gradient": "linear", "x1": 0, "y1": 1, "x2": 0, "y2": 0, "stops": [{"offset": 0, "color": "#053061"}, {"offset": 0.1, "color": "#2166ac"}, {"offset": 0.2, "color": "#4393c3"}, {"offset": 0.3, "color": "#92c5de"}, {"offset": 0.4, "color": "#d1e5f0"}, {"offset": 0.5, "color": "#f7f7f7"}, {"offset": 0.6, "color": "#fddbc7"}, {"offset": 0.7, "color": "#f4a582"}, {"offset": 0.8, "color": "#d6604d"}, {"offset": 0.9, "color": "#b2182b"}, {"offset": 1, "color": "#67001f"}]}, "stroke": "#333333", "strokeWidth": 0.8},
         "encoding": {
           "x": {"datum": 0, "type": "quantitative", "scale": {"domain": [-0.484848, 1], "nice": false, "zero": false}, "axis": null},
           "x2": {"datum": 1},
           "y": {"field": "lo", "type": "quantitative", "scale": {"domain": [-0.2, 0.2], "nice": false, "zero": false}, "axis": {"orient": "right", "values": [-0.2, -0.15, -0.1, -0.05, 0, 0.05, 0.1, 0.15, 0.2], "format": ".2f", "title": "Hs (m) - Anomaly", "titleAngle": 270, "titleBaseline": "top", "titlePadding": 2}},
           "y2": {"field": "hi"}
         }},
        {"mark": {"type": "point", "shape": "M-1,0L0,-1.08L1,0Z", "size": 1089, "filled": true, "fill": "#67001f", "stroke": "#333333", "strokeWidth": 0.8, "opacity": 1},
         "encoding": {
           "x": {"datum": 0.5, "type": "quantitative"},
           "y": {"field": "hi", "type": "quantitative", "axis": {"orient": "right", "values": [-0.2, -0.15, -0.1, -0.05, 0, 0.05, 0.1, 0.15, 0.2], "format": ".2f", "title": "Hs (m) - Anomaly", "titleAngle": 270, "titleBaseline": "top", "titlePadding": 2}}
         }},
        {"mark": {"type": "point", "shape": "M-1,0L0,1.08L1,0Z", "size": 1089, "filled": true, "fill": "#053061", "stroke": "#333333", "strokeWidth": 0.8, "opacity": 1},
         "encoding": {
           "x": {"datum": 0.5, "type": "quantitative"},
           "y": {"field": "lo", "type": "quantitative", "axis": {"orient": "right", "values": [-0.2, -0.15, -0.1, -0.05, 0, 0.05, 0.1, 0.15, 0.2], "format": ".2f", "title": "Hs (m) - Anomaly", "titleAngle": 270, "titleBaseline": "top", "titlePadding": 2}}
         }}
      ]
    }
  ]
}
